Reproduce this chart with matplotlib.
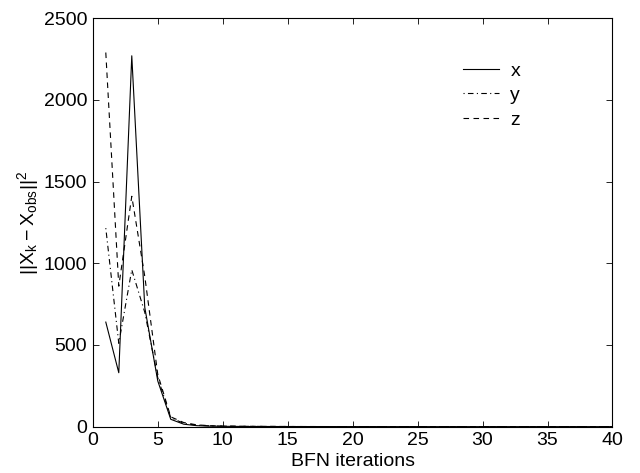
import matplotlib
matplotlib.use("Agg")
import matplotlib.pyplot as plt

plt.rcParams["font.family"] = ["Liberation Sans", "DejaVu Sans"]
plt.rcParams["mathtext.default"] = "regular"
plt.rcParams["font.size"] = 14

iterations = list(range(1, 41))
err_x = [640, 330, 2270, 730, 280, 45, 15, 6, 3, 2,
         1.5, 1, 1, 0.8, 0.6, 0.5, 0.5, 0.4, 0.3, 0.3,
         0.3, 0.2, 0.2, 0.2, 0.2, 0.1, 0.1, 0.1, 0.1, 0.1,
         0.1, 0.1, 0.1, 0.1, 0.1, 0.1, 0.1, 0.1, 0.1, 0.1]
err_y = [1215, 510, 960, 700, 300, 55, 20, 9, 5, 3,
         2, 1.5, 1.2, 1, 0.8, 0.7, 0.6, 0.5, 0.4, 0.4,
         0.3, 0.3, 0.3, 0.2, 0.2, 0.2, 0.2, 0.1, 0.1, 0.1,
         0.1, 0.1, 0.1, 0.1, 0.1, 0.1, 0.1, 0.1, 0.1, 0.1]
err_z = [2290, 860, 1410, 920, 320, 60, 25, 11, 6, 3.5,
         2.5, 2, 1.5, 1.2, 1, 0.8, 0.7, 0.6, 0.5, 0.4,
         0.4, 0.3, 0.3, 0.3, 0.2, 0.2, 0.2, 0.2, 0.1, 0.1,
         0.1, 0.1, 0.1, 0.1, 0.1, 0.1, 0.1, 0.1, 0.1, 0.1]

fig = plt.figure(figsize=(6.4, 4.73), dpi=100)
ax = fig.add_axes([0.145, 0.098, 0.812, 0.8635])

ax.plot(iterations, err_x, color="black", lw=0.8, linestyle="-", label="x")
ax.plot(iterations, err_y, color="black", lw=0.8, linestyle=(0, (1, 3, 5, 3)), label="y")
ax.plot(iterations, err_z, color="black", lw=0.8, linestyle=(0, (5, 4)), label="z")

ax.set_xlim(0, 40)
ax.set_ylim(0, 2500)
ax.set_xticks(range(0, 41, 5))
ax.set_yticks(range(0, 2501, 500))
ax.tick_params(direction="in", top=True, right=True, length=4, width=0.6,
               labelsize=14, pad=4)
for s in ax.spines.values():
    s.set_linewidth(0.8)

ax.set_xlabel("BFN iterations", fontsize=14, labelpad=3)
ax.set_ylabel(r"$||X_k - X_{obs}||^2$", fontsize=14, labelpad=2)

ax.legend(loc="upper left", bbox_to_anchor=(0.712, 0.893), frameon=False,
          borderpad=0, borderaxespad=0, handlelength=1.85,
          labelspacing=0.36, handletextpad=0.6, fontsize=14)

fig.savefig("out.png", dpi=100)
